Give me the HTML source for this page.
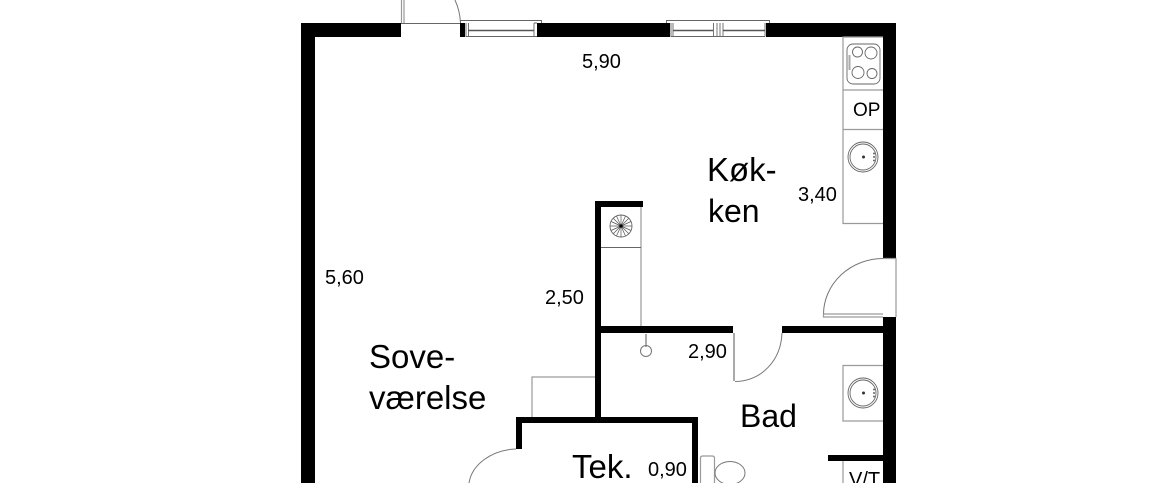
<!DOCTYPE html>
<html><head><meta charset="utf-8"><style>
html,body{margin:0;padding:0;background:#fff}
svg{display:block}
text{font-family:"Liberation Sans",sans-serif;fill:#000}
.d{font-size:20px}.l{font-size:33px}
.t{fill:none;stroke:#9a9a9a;stroke-width:1.2}
.a{fill:none;stroke:#777;stroke-width:1}
.n{fill:none;stroke:#666;stroke-width:.9}
</style></head><body>
<svg width="1160" height="483" viewBox="0 0 1160 483" xmlns="http://www.w3.org/2000/svg">
<rect width="1160" height="483" fill="#fff"/>
<!-- walls -->
<g fill="#000">
<rect x="301" y="23" width="100" height="14"/>
<rect x="460" y="23" width="5" height="14"/>
<rect x="537" y="23" width="133" height="14"/>
<rect x="766" y="23" width="130" height="14"/>
<rect x="301" y="23" width="14" height="460"/>
<rect x="883" y="23" width="13" height="235"/>
<rect x="883" y="317" width="13" height="166"/>
<rect x="595" y="201" width="6" height="222"/>
<rect x="595" y="201" width="48" height="6"/>
<rect x="595" y="326" width="138" height="7"/>
<rect x="782" y="326" width="101" height="7"/>
<rect x="516" y="417" width="182" height="6"/>
<rect x="516" y="417" width="6" height="32"/>
<rect x="692" y="417" width="6" height="66"/>
<rect x="828" y="455" width="55" height="6"/>
</g>
<!-- entry door -->
<path class="t" d="M401.5 0V23M404 0V23"/>
<path class="n" d="M401 23.5H460"/>
<path class="a" d="M455 0Q460 11 460.5 23"/>
<!-- window 1 -->
<path class="n" d="M460.5 23V20.5H541.5V23M466 23V36.5H537M468.5 23V36.5M534 23V36.5M537 23H534"/>
<path d="M468 30.5H534" stroke="#555" stroke-width="1.4"/>
<!-- window 2 -->
<path class="n" d="M666.5 23V20.5H769.5V23M671 23V36.5H765M673 23V36.5M765 23V36.5M713.5 23V36.5M717 23V36.5M720 23V36.5M723 23V36.5"/>
<path d="M673 30.5H713M723 30.5H765" stroke="#555" stroke-width="1.4"/>
<!-- kitchen counter -->
<path class="t" d="M883 37H843V223.5H883M843 90H883M843 129.5H883"/>
<rect x="847" y="44" width="33" height="40" rx="6" class="n"/>
<circle cx="857.5" cy="52" r="5" class="n"/><circle cx="871" cy="53" r="6" class="n"/>
<circle cx="858" cy="72.5" r="6" class="n"/><circle cx="872" cy="73.5" r="5" class="n"/>
<path d="M849.5 55.5V70" stroke="#555" stroke-width="2" stroke-dasharray="1 1"/>
<circle cx="863" cy="157" r="15" class="n"/><circle cx="863" cy="157" r="13" class="n"/>
<circle cx="863.5" cy="157" r="1.5" fill="#333"/>
<circle cx="874" cy="153.5" r="1" fill="#666"/><circle cx="874" cy="157" r="1" fill="#666"/><circle cx="874" cy="160.5" r="1" fill="#666"/>
<!-- right door -->
<path class="t" d="M883 258.5H896V317"/>
<path class="a" d="M883 258.5A60 56 0 0 0 823.5 314"/>
<path class="t" d="M823.5 314H883M823.5 314V317H883"/>
<!-- shaft -->
<path class="t" d="M641 207V326"/>
<path class="n" d="M601 247.5H641"/>
<circle cx="621" cy="226" r="11" class="n"/>
<g stroke="#555" stroke-width=".7">
<path d="M610 226H632M621 215V237M613.2 218.2L628.8 233.8M628.8 218.2L613.2 233.8M611 221.5L631 230.5M611 230.5L631 221.5M616.5 216L625.5 236M625.5 216L616.5 236"/>
</g>
<circle cx="621" cy="226" r="1.5" fill="#000"/>
<!-- drain -->
<path d="M646 334V347" stroke="#888" stroke-width="1.4"/>
<circle cx="646" cy="351" r="5.5" class="a"/>
<!-- bad door -->
<path d="M734 333V381" stroke="#aaa" stroke-width="2"/>
<path class="a" d="M735 381.5C762 381 781 360 782 333"/>
<!-- bedroom closet -->
<path class="t" d="M532 417V377H595"/>
<!-- tek door -->
<path class="a" d="M516 449C492 450 472 464 469 483"/>
<!-- toilet -->
<path class="t" d="M700.5 483V458Q700.5 456 703 456H712Q714.5 456 714.5 458V483"/>
<ellipse cx="730" cy="473" rx="15" ry="11.5" class="a"/>
<!-- bad sink -->
<path class="t" d="M883 365.5H843V421H883M843 461V483"/>
<circle cx="863" cy="393" r="15" class="n"/><circle cx="863" cy="393" r="13" class="n"/>
<circle cx="863.5" cy="393" r="1.5" fill="#333"/>
<circle cx="874" cy="389.5" r="1" fill="#666"/><circle cx="874" cy="393" r="1" fill="#666"/><circle cx="874" cy="396.5" r="1" fill="#666"/>
<!-- labels -->
<text class="d" x="582" y="68">5,90</text>
<text class="d" x="325" y="284">5,60</text>
<text class="d" x="545" y="304">2,50</text>
<text class="d" x="798" y="201">3,40</text>
<text class="d" x="688" y="358">2,90</text>
<text class="d" x="648" y="476">0,90</text>
<text x="853" y="116" style="font-size:19px">OP</text>
<text class="d" x="849" y="486">V/T</text>
<text class="l" x="707" y="181">Køk-</text>
<text class="l" x="708" y="222" style="font-size:32px">ken</text>
<text class="l" x="369" y="368">Sove-</text>
<text class="l" x="369" y="409">værelse</text>
<text class="l" x="740" y="427" style="font-size:32px">Bad</text>
<text class="l" x="572" y="478">Tek.</text>
</svg>
</body></html>
